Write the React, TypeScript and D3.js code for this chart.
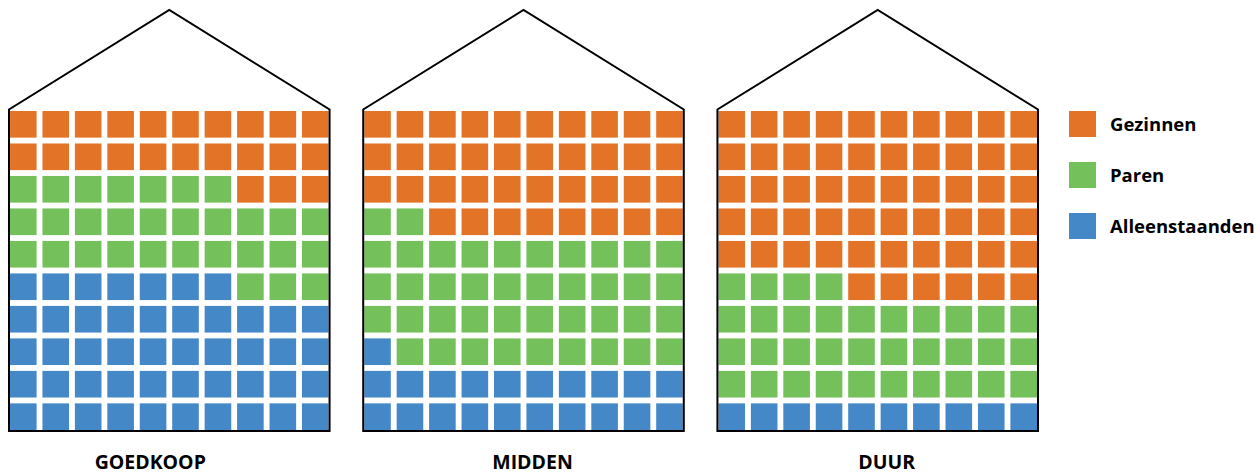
import React, { useEffect, useRef } from 'react';
import * as d3 from 'd3';

// price segments (one house each)
const categories = ['GOEDKOOP', 'MIDDEN', 'DUUR'];
// household types, in fill order from the bottom of the house
const seriesNames = ['Alleenstaanden', 'Paren', 'Gezinnen'];
const alleenstaanden = [47, 21, 10];
const paren = [30, 41, 34];
const gezinnen = [23, 38, 56];
// legend order (top to bottom)
const legendOrder = ['Gezinnen', 'Paren', 'Alleenstaanden'];

const colors: Record<string, string> = {
  Gezinnen: '#E37427',
  Paren: '#74C05A',
  Alleenstaanden: '#4588C8',
};

const WIDTH = 1260;
const HEIGHT = 474;
const labelShift = [-19, 9, 9]; // labels are not quite centred in the original

const App: React.FC = () => {
  const ref = useRef<SVGSVGElement | null>(null);

  useEffect(() => {
    document.body.style.margin = '0';
    if (!ref.current) return;
    const svg = d3.select(ref.current);
    svg.selectAll('*').remove();

    const houseX = d3.scaleBand<string>()
      .domain(categories)
      .range([9, 1038])
      .paddingInner(0.095);
    const houseW = houseX.bandwidth();

    const idx = d3.range(10).map(String);
    const colX = d3.scaleBand<string>().domain(idx).range([1, houseW - 1]).paddingInner(0.18);
    const rowY = d3.scaleBand<string>().domain(idx).range([430, 111]).paddingInner(0.18); // row 0 = bottom

    const roofTop = 10;
    const roofBase = 109.5;
    const floor = 431;

    const values = [alleenstaanden, paren, gezinnen];

    categories.forEach((cat, ci) => {
      const x0 = houseX(cat)!;
      const g = svg.append('g').attr('transform', `translate(${x0},0)`);

      // waffle cells
      const cells: { i: number; s: string }[] = [];
      seriesNames.forEach((s, si) => {
        for (let k = 0; k < values[si][ci]; k++) cells.push({ i: cells.length, s });
      });

      g.selectAll('rect.cell')
        .data(cells)
        .join('rect')
        .attr('class', 'cell')
        .attr('x', d => colX(String(d.i % 10))!)
        .attr('y', d => rowY(String(Math.floor(d.i / 10)))!)
        .attr('width', colX.bandwidth())
        .attr('height', rowY.bandwidth())
        .attr('fill', d => colors[d.s]);

      // house outline
      const outline = d3.path();
      outline.moveTo(0, floor);
      outline.lineTo(0, roofBase);
      outline.lineTo(houseW / 2, roofTop);
      outline.lineTo(houseW, roofBase);
      outline.lineTo(houseW, floor);
      outline.closePath();
      g.append('path')
        .attr('d', outline.toString())
        .attr('fill', 'none')
        .attr('stroke', '#000')
        .attr('stroke-width', 2)
        .attr('stroke-linejoin', 'miter');

      g.append('text')
        .attr('x', houseW / 2 + labelShift[ci])
        .attr('y', 469)
        .attr('text-anchor', 'middle')
        .style('font-family', '"Open Sans", sans-serif')
        .style('font-weight', 'bold')
        .style('font-size', '19.5px')
        .attr('fill', '#000')
        .text(cat);
    });

    // legend
    const legendY = d3.scaleBand<string>()
      .domain(legendOrder)
      .range([111, 239])
      .paddingInner(0.49);
    const legend = svg.append('g').attr('transform', 'translate(1069,0)');
    const item = legend.selectAll('g')
      .data(legendOrder)
      .join('g')
      .attr('transform', d => `translate(0,${legendY(d)})`);
    item.append('rect')
      .attr('width', 27)
      .attr('height', legendY.bandwidth())
      .attr('fill', d => colors[d]);
    item.append('text')
      .attr('x', 41)
      .attr('y', legendY.bandwidth() / 2 + 6.5)
      .style('font-family', '"Open Sans", sans-serif')
      .style('font-weight', 'bold')
      .style('font-size', '18.5px')
      .attr('fill', '#000')
      .text(d => d);
  }, []);

  return <svg ref={ref} width={WIDTH} height={HEIGHT} style={{ display: 'block' }} />;
};

export default App;
